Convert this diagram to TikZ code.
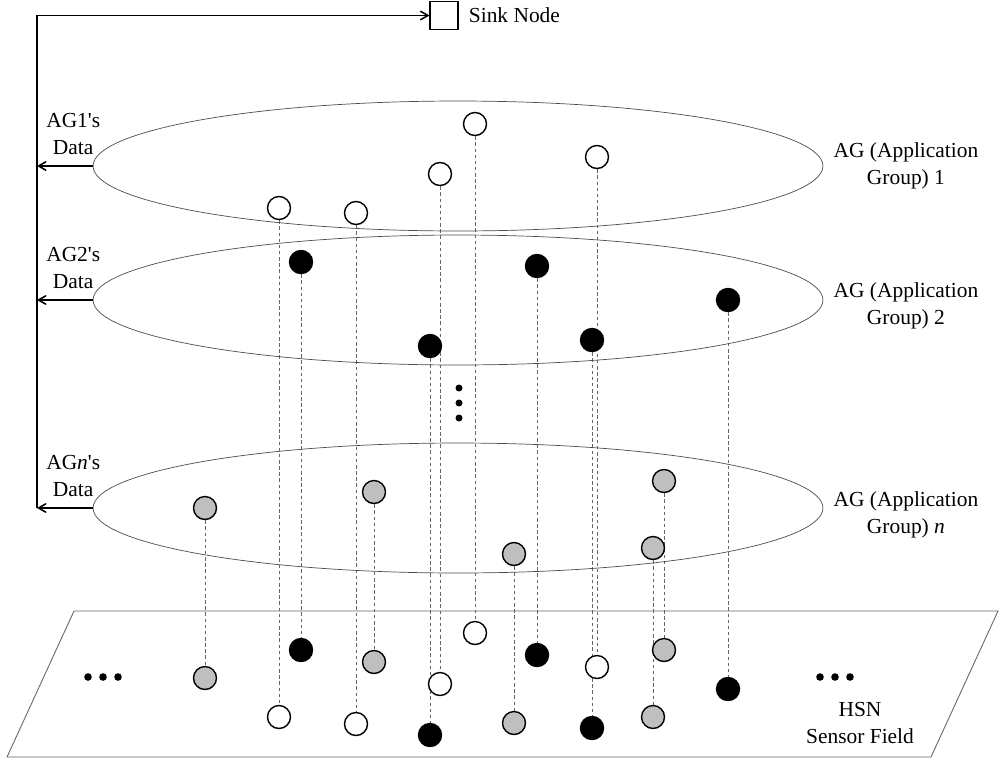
\documentclass[tikz,border=0pt]{standalone}
\usepackage{fontspec}
\setmainfont{Liberation Serif}
\usetikzlibrary{positioning}
\usetikzlibrary{shapes.geometric}
\usetikzlibrary{arrows,backgrounds}

\begin{document}
\begin{tikzpicture}[x=0.02cm,y=-0.02cm,>=angle 60,
    font=\fontsize{12.2}{15.3}\selectfont,
    sensor/.style={circle,draw,line width=0.8pt,minimum size=0.46cm,inner sep=0pt},
    sensorW/.style={sensor,fill=white},
    sensorB/.style={sensor,fill=black},
    sensorG/.style={sensor,fill=black!25},
    group/.style={ellipse,draw=black!70,line width=0.4pt,
                  minimum width=14.6cm,minimum height=2.6cm,inner sep=0pt},
    drop/.style={draw=black!60,line width=0.4pt,dash pattern=on 2pt off 1.5pt},
    lbl/.style={align=center,inner sep=0pt}]
  \useasboundingbox (0,0) rectangle (1000,758);
  % sensor field
  \draw[black!60,line width=0.5pt] (74,611) -- (998,611) -- (931,757) -- (7,757) -- cycle;
  \foreach \x in {88,103,118,820,835,850} \fill (\x,677) circle [radius=3.8];
  \node[lbl] (field) at (860,723) {HSN\\Sensor Field};
  % application groups
  \node[group] (ag1) at (458,166) {};
  \node[group] (ag2) at (458,300) {};
  \node[group] (agn) at (458,508) {};
  \foreach \y in {388,403,418} \fill (459,\y) circle [radius=3.5];
  \node[lbl,right=0.2cm of ag1] {AG (Application\\Group) 1};
  \node[lbl,right=0.2cm of ag2,yshift=-0.12cm] {AG (Application\\Group) 2};
  \node[lbl,right=0.2cm of agn,yshift=-0.14cm] {AG (Application\\Group) \textit{n}};
  % sensors: group copy and field copy
  \foreach \s/\n/\x/\y/\fy in {sensorW/w1/475/124/633, sensorW/w2/440/174/684,
      sensorW/w3/597/157/667, sensorW/w4/279/208/717, sensorW/w5/356/213/724,
      sensorB/b1/301/262/650, sensorB/b2/537/266/655, sensorB/b3/728/300/689,
      sensorB/b4/430/346/735, sensorB/b5/592/340/728,
      sensorG/g1/205/508/678, sensorG/g2/374/492/662, sensorG/g3/664/481/650,
      sensorG/g4/514/554/723, sensorG/g5/653/548/717}
  {
    \node[\s] (\n) at (\x,\y) {};
    \node[\s] (f\n) at (\x,\fy) {};
  }
  \begin{scope}[on background layer]
    \foreach \n in {w1,w2,w3,w4,w5,b1,b2,b3,b4,b5,g1,g2,g3,g4,g5}
      \draw[drop] (\n) -- (f\n);
  \end{scope}
  % sink and data paths
  \node[draw,line width=0.6pt,minimum size=0.56cm,inner sep=0pt] (sink) at (444,15.5) {};
  \node[lbl,right=0.2cm of sink] {Sink Node};
  \coordinate (bus) at (37,15.5);
  \path[->,line width=0.9pt]
    (ag1.west) edge node[lbl,above=6pt,pos=0.35] {AG1\textquotesingle s\\Data} (ag1.west -| bus)
    (ag2.west) edge node[lbl,above=6pt,pos=0.35] {AG2\textquotesingle s\\Data} (ag2.west -| bus)
    (agn.west) edge node[lbl,above=6pt,pos=0.35] {AG\textit{n}\textquotesingle s\\Data} (agn.west -| bus);
  \draw[->,line width=0.9pt] (agn.west -| bus) |- (sink.west);
\end{tikzpicture}
\end{document}
